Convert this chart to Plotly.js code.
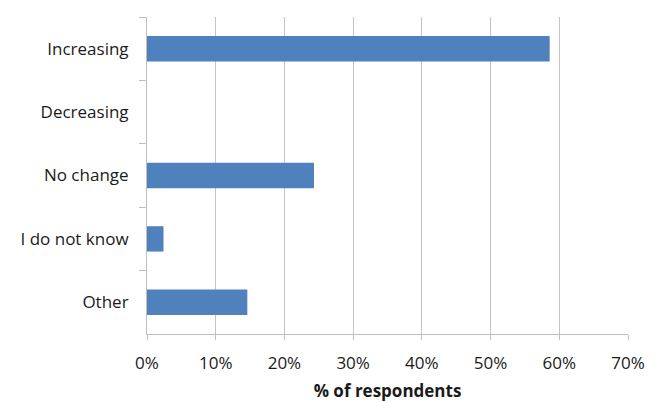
<!DOCTYPE html>
<html>
<head>
<meta charset="utf-8">
<script src="https://cdn.plot.ly/plotly-3.0.1.min.js"></script>
<style>
  html, body { margin: 0; padding: 0; background: #fff; }
  #chart { width: 664px; height: 403px; }
</style>
</head>
<body>
<div id="chart"></div>
<script>
const categories = ['Increasing', 'Decreasing', 'No change', 'I do not know', 'Other']
const shares = [0.586, 0, 0.243, 0.024, 0.146]
const xTicks = [0, 0.1, 0.2, 0.3, 0.4, 0.5, 0.6, 0.7]

const trace = {
  type: 'bar',
  orientation: 'h',
  x: shares,
  y: categories,
  marker: { color: '#4f81bd', line: { width: 0 } },
  hoverinfo: 'x+y',
}

const font = 'Open Sans, Lato, sans-serif'

const layout = {
  width: 664,
  height: 403,
  margin: { l: 147, r: 36, t: 17, b: 69 },
  paper_bgcolor: '#fff',
  plot_bgcolor: '#fff',
  bargap: 0.6,
  showlegend: false,
  font: { family: font, size: 17, color: '#1a1a1a' },
  xaxis: {
    range: [0, 0.7],
    tickvals: xTicks,
    tickformat: '.0%',
    showgrid: true,
    gridcolor: '#c4c4c4',
    gridwidth: 1,
    zeroline: false,
    showline: true,
    linecolor: '#bfbfbf',
    ticks: 'outside',
    ticklen: 5,
    tickcolor: '#bfbfbf',
    ticklabelstandoff: 9,
    tickfont: { family: font, size: 17, color: '#1a1a1a' },
    title: { text: '<b>% of respondents</b>', font: { family: font, size: 17, color: '#1a1a1a' }, standoff: 11 },
  },
  yaxis: {
    categoryorder: 'array',
    categoryarray: categories,
    autorange: 'reversed',
    showgrid: false,
    zeroline: false,
    showline: true,
    linecolor: '#bfbfbf',
    ticks: 'outside',
    tickson: 'boundaries',
    ticklen: 7,
    tickcolor: '#bfbfbf',
    ticklabelstandoff: 14,
    tickfont: { family: font, size: 17, color: '#1a1a1a' },
  },
}

Plotly.newPlot('chart', [trace], layout, { displayModeBar: false, staticPlot: true })
</script>
</body>
</html>
